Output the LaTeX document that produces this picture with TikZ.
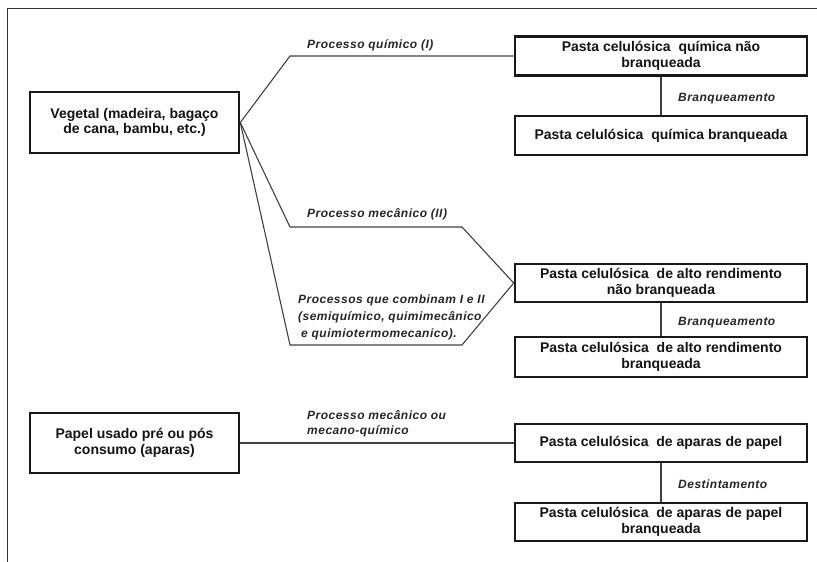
\documentclass[tikz,border=0pt]{standalone}
\usepackage{fontspec}
\setmainfont{Liberation Sans}
\newfontfamily\lblfont[LetterSpace=4]{Liberation Sans}
\begin{document}
\begin{tikzpicture}[x=1pt,y=-1pt,
  box/.style={draw=black!90, line width=2.6pt, fill=white, align=center, inner sep=0pt,
    text=black!92, font=\fontsize{14}{15.5}\selectfont\bfseries},
  rbox/.style={box, minimum width=292pt},
  lbox/.style={box, minimum width=209pt},
  conn/.style={draw=black!75, line width=1.1pt},
  frame/.style={draw=black!80, line width=1pt},
  lbl/.style={font=\lblfont\fontsize{12}{17}\selectfont\bfseries\itshape, text=black!85,
    inner sep=0pt, align=left}]
\useasboundingbox (0,0) rectangle (817,562);
\draw[frame] (7,562) -- (7,8) -- (817,8);

% source boxes
\node[lbox, minimum height=61pt] (veg) at (134.5,122.5) {Vegetal (madeira, bagaço\\de cana, bambu, etc.)};
\node[lbox, minimum height=60pt] (pap) at (134.5,443) {Papel usado pré ou pós\\consumo (aparas)};

% result boxes
\node[rbox, minimum height=39pt] (b1) at (661,56) {Pasta celulósica\ \ química não\\branqueada};
\node[rbox, minimum height=39pt] (b2) at (661,135.5) {Pasta celulósica\ \ química branqueada};
\node[rbox, minimum height=38pt] (b3) at (661,283) {Pasta celulósica\ \ de alto rendimento\\não branqueada};
\node[rbox, minimum height=40pt] (b4) at (661,357) {Pasta celulósica\ \ de alto rendimento\\branqueada};
\node[rbox, minimum height=38pt] (b5) at (661,443) {Pasta celulósica\ \ de aparas de papel};
\node[rbox, minimum height=38pt] (b6) at (661,522) {Pasta celulósica\ \ de aparas de papel\\branqueada};

% bend points
\coordinate (k1) at (290,56);
\coordinate (k2a) at (290,227);
\coordinate (k2b) at (462,227);
\coordinate (k3a) at (290,345);
\coordinate (k3b) at (462,345);

% connectors
\draw[conn] (veg.east) -- (k1) -- (b1.west);
\draw[conn] (veg.east) -- (k2a) -- (k2b) -- (b3.west);
\draw[conn] (veg.east) -- (k3a) -- (k3b) -- (b3.west);
\draw[conn] (b1.south) -- (b2.north);
\draw[conn] (b3.south) -- (b4.north);
\draw[conn] (pap.east) -- (b5.west);
\draw[conn] (b5.south) -- (b6.north);

% labels
\node[lbl, anchor=base west] (l1) at (307,48.5) {Processo químico (I)};
\node[lbl, anchor=base west] (l2) at (307,217) {Processo mecânico (II)};
\node[lbl, anchor=north west] (l3) at (298,295) {Processos que combinam I e II\\(semiquímico, quimimecânico\\\hspace*{3pt}e quimiotermomecanico).};
\node[lbl, anchor=base west] (l4) at (678,101) {Branqueamento};
\node[lbl, anchor=base west] (l5) at (678,325.5) {Branqueamento};
\node[lbl, anchor=north west, font=\lblfont\fontsize{12}{15}\selectfont\bfseries\itshape] (l6) at (307,410.5) {Processo mecânico ou\\mecano-químico};
\node[lbl, anchor=base west] (l7) at (678,488) {Destintamento};
\end{tikzpicture}
\end{document}
